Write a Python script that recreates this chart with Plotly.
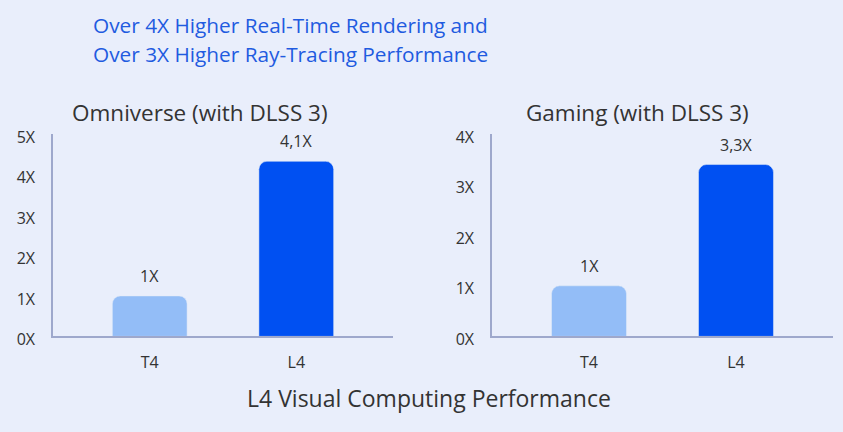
import plotly.graph_objects as go

categories = ["T4", "L4"]
omniverse_values = [1.0, 4.33]
omniverse_labels = ["1X", "4,1X"]
gaming_values = [1.0, 3.4]
gaming_labels = ["1X", "3,3X"]
omni_ticks = [0, 1, 2, 3, 4, 5]
gaming_ticks = [0, 1, 2, 3, 4]

W, H = 843, 432
BG = "#e9eefb"
LIGHT = "#93bdf7"
DARK = "#0050f2"
AXIS = "#9ea8cc"
TXT = "#333333"
FONT = "Open Sans"

fig = go.Figure()
fig.add_trace(go.Bar(x=categories, y=omniverse_values, marker_color=[LIGHT, DARK],
                     width=0.51, xaxis="x", yaxis="y", hoverinfo="skip"))
fig.add_trace(go.Bar(x=categories, y=gaming_values, marker_color=[LIGHT, DARK],
                     width=0.51, xaxis="x2", yaxis="y2", hoverinfo="skip"))

ann = []
for xa, ya, vals, labs in [("x", "y", omniverse_values, omniverse_labels),
                           ("x2", "y2", gaming_values, gaming_labels)]:
    for c, v, l in zip(categories, vals, labs):
        ann.append(dict(x=c, y=v, xref=xa, yref=ya, text=l, showarrow=False,
                        yanchor="bottom", yshift=7, font=dict(size=16, color=TXT, family=FONT)))

ann += [
    dict(x=91 / W, y=1 - 18 / H, xref="paper", yref="paper", text="Over 4X Higher Real-Time Rendering and",
         showarrow=False, xanchor="left", yanchor="middle", font=dict(size=20.8, color="#1f5be0", family=FONT)),
    dict(x=91 / W, y=1 - 48 / H, xref="paper", yref="paper", text="Over 3X Higher Ray-Tracing Performance",
         showarrow=False, xanchor="left", yanchor="middle", font=dict(size=20.8, color="#1f5be0", family=FONT)),
    dict(x=200 / W, y=1 - 110 / H, xref="paper", yref="paper", text="Omniverse (with DLSS 3)",
         showarrow=False, xanchor="center", yanchor="middle", font=dict(size=22.5, color=TXT, family=FONT)),
    dict(x=637 / W, y=1 - 110 / H, xref="paper", yref="paper", text="Gaming (with DLSS 3)",
         showarrow=False, xanchor="center", yanchor="middle", font=dict(size=22.5, color=TXT, family=FONT)),
    dict(x=429 / W, y=1 - 411 / H, xref="paper", yref="paper", text="L4 Visual Computing Performance",
         showarrow=False, xanchor="center", yanchor="middle", font=dict(size=23, color=TXT, family=FONT)),
]

ydom = [1 - 346 / H, 1 - 133 / H]
xaxis_common = dict(range=[-0.66, 1.66], showgrid=False, zeroline=False, showline=True,
                    linecolor=AXIS, linewidth=1.5, ticks="", ticklabelstandoff=11,
                    tickfont=dict(size=16, color=TXT, family=FONT), fixedrange=True)
yaxis_common = dict(showgrid=False, zeroline=False, showline=True, linecolor=AXIS, linewidth=1.5,
                    ticks="", ticklabelstandoff=13, ticklabelshift=3,
                    tickfont=dict(size=16, color=TXT, family=FONT), fixedrange=True)

fig.update_layout(
    width=W, height=H, margin=dict(l=0, r=0, t=0, b=0),
    paper_bgcolor=BG, plot_bgcolor=BG, showlegend=False, barcornerradius=8,
    font=dict(family=FONT, color=TXT),
    xaxis=dict(domain=[53 / W, 393 / W], anchor="y", **xaxis_common),
    xaxis2=dict(domain=[492 / W, 833 / W], anchor="y2", **xaxis_common),
    yaxis=dict(domain=ydom, anchor="x", range=[0, 5], tickvals=omni_ticks,
               ticktext=[f"{t}X" for t in omni_ticks], **yaxis_common),
    yaxis2=dict(domain=ydom, anchor="x2", range=[0, 4], tickvals=gaming_ticks,
                ticktext=[f"{t}X" for t in gaming_ticks], **yaxis_common),
    annotations=ann,
)

fig.write_html("out.html")
